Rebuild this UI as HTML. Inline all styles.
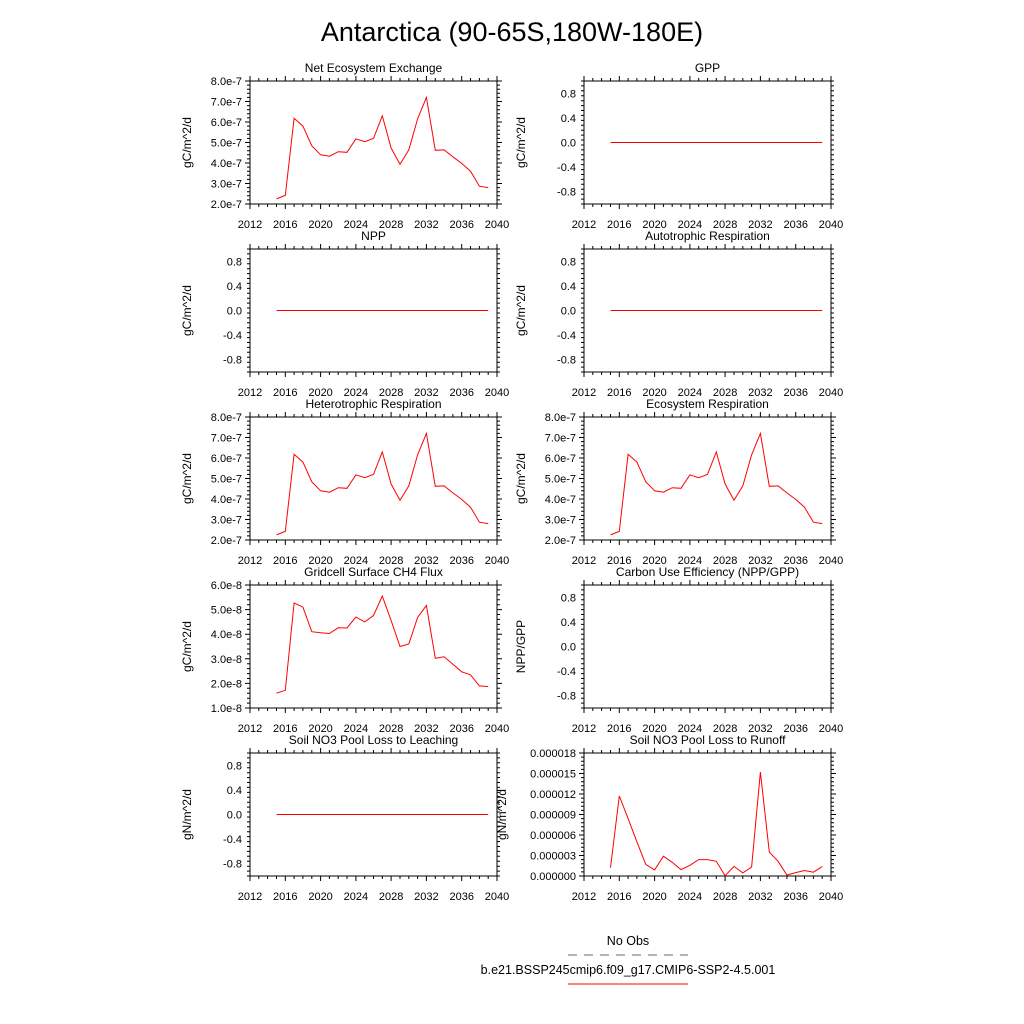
<!DOCTYPE html>
<html><head><meta charset="utf-8"><style>
body{margin:0;background:#fff;}
svg{display:block;font-family:"Liberation Sans",sans-serif;}
</style></head><body>
<svg id="c" width="1024" height="1024" viewBox="0 0 1024 1024">
<text x="512" y="41" font-size="27" text-anchor="middle">Antarctica (90-65S,180W-180E)</text>
<g>
<text x="628" y="945" font-size="12.5" text-anchor="middle">No Obs</text>
<line x1="568" y1="955" x2="688" y2="955" stroke="#6a6a90" stroke-dasharray="9,7"/>
<text x="628" y="974" font-size="12.5" text-anchor="middle">b.e21.BSSP245cmip6.f09_g17.CMIP6-SSP2-4.5.001</text>
<line x1="568" y1="984" x2="688" y2="984" stroke="red"/>
</g>
</svg>
<script>
const years=[2015,2016,2017,2018,2019,2020,2021,2022,2023,2024,2025,2026,2027,2028,2029,2030,2031,2032,2033,2034,2035,2036,2037,2038,2039];
const neeValues=[2.25,2.42,6.18,5.8,4.84,4.4,4.33,4.55,4.52,5.18,5.04,5.2,6.3,4.73,3.94,4.64,6.15,7.2,4.62,4.64,4.3,3.98,3.6,2.87,2.8];
const ch4Values=[1.6,1.72,5.27,5.1,4.1,4.06,4.03,4.26,4.25,4.7,4.5,4.76,5.55,4.56,3.5,3.6,4.68,5.17,3.02,3.08,2.78,2.47,2.35,1.9,1.87];
const runoffValues=[1.22,11.7,8.4,5.0,1.7,0.9,2.9,2.0,0.93,1.57,2.4,2.4,2.15,0.05,1.4,0.45,1.3,15.2,3.5,2.15,0.15,0.5,0.8,0.55,1.37];
const zeroValues=years.map(()=>0);
const xTicks=[2012,2016,2020,2024,2028,2032,2036,2040];
const eTicks7=["2.0e-7","3.0e-7","4.0e-7","5.0e-7","6.0e-7","7.0e-7","8.0e-7"];
const eTicks8=["1.0e-8","2.0e-8","3.0e-8","4.0e-8","5.0e-8","6.0e-8"];
const zTicks=["-0.8","-0.4","0.0","0.4","0.8"];
const rTicks=["0.000000","0.000003","0.000006","0.000009","0.000012","0.000015","0.000018"];
const NS="http://www.w3.org/2000/svg";
const svg=document.getElementById('c');
function mk(tag,attrs,parent){const e=document.createElementNS(NS,tag);for(const k in attrs)e.setAttribute(k,attrs[k]);parent.appendChild(e);return e;}
const panels=[
 {t:"Net Ecosystem Exchange",col:0,row:0,kind:"e7",v:neeValues,yl:"gC/m^2/d"},
 {t:"GPP",col:1,row:0,kind:"z",v:zeroValues,yl:"gC/m^2/d"},
 {t:"NPP",col:0,row:1,kind:"z",v:zeroValues,yl:"gC/m^2/d"},
 {t:"Autotrophic Respiration",col:1,row:1,kind:"z",v:zeroValues,yl:"gC/m^2/d"},
 {t:"Heterotrophic Respiration",col:0,row:2,kind:"e7",v:neeValues,yl:"gC/m^2/d"},
 {t:"Ecosystem Respiration",col:1,row:2,kind:"e7",v:neeValues,yl:"gC/m^2/d"},
 {t:"Gridcell Surface CH4 Flux",col:0,row:3,kind:"e8",v:ch4Values,yl:"gC/m^2/d"},
 {t:"Carbon Use Efficiency (NPP/GPP)",col:1,row:3,kind:"z",v:null,yl:"NPP/GPP"},
 {t:"Soil NO3 Pool Loss to Leaching",col:0,row:4,kind:"z",v:zeroValues,yl:"gN/m^2/d"},
 {t:"Soil NO3 Pool Loss to Runoff",col:1,row:4,kind:"r",v:runoffValues,yl:"gN/m^2/d"}
];
panels.forEach((p,i)=>{
 const L=p.col?584:250,R=L+247,T=81+p.row*168,B=T+123;
 const g=mk('g',{},svg);
 
 
 let lo,hi,labels,vals;
 if(p.kind=="e7"){lo=2;hi=8;labels=eTicks7;vals=labels.map((s,k)=>2+k);}
 else if(p.kind=="e8"){lo=1;hi=6;labels=eTicks8;vals=labels.map((s,k)=>1+k);}
 else if(p.kind=="r"){lo=0;hi=18;labels=rTicks;vals=labels.map((s,k)=>3*k);}
 else {lo=-1;hi=1;labels=zTicks;vals=labels.map(s=>parseFloat(s));}
 const xs=y=>L+(y-2012)/28*247;
 const ys=v=>B-(v-lo)/(hi-lo)*123;
 const tt=mk('text',{x:(L+R)/2,y:T-9,'font-size':12,'text-anchor':'middle'},g);tt.textContent=p.t;
 
 const fr=mk('rect',{x:L,y:T,width:247,height:123,fill:'none',stroke:'#000','stroke-width':1},g);
 
 let d='';
 for(let y=2012;y<=2040;y++){const x=xs(y).toFixed(1);const len=(y%4==0)?5:3;d+=`M${x} ${B}v${len}M${x} ${T}v-${len}`;}
 const step=(vals[1]-vals[0])/5;
 for(let v=lo;v<=hi+1e-9;v+=step){const y=ys(v).toFixed(1);const major=vals.some(t=>Math.abs(t-v)<1e-6);const len=major?5:3;d+=`M${L} ${y}h-${len}M${R} ${y}h${len}`;}
 const ax=mk('path',{d:d,stroke:'#000','stroke-width':1,fill:'none'},g);
 
 xTicks.forEach(y=>{const t=mk('text',{x:xs(y),y:B+24,'font-size':11,'text-anchor':'middle'},g);t.textContent=y;
  });
 labels.forEach((s,k)=>{const t=mk('text',{x:L-8,y:ys(vals[k])+4,'font-size':11,'text-anchor':'end'},g);t.textContent=s;
  });
 const lx=p.kind=="r"?L-78:L-59;
 const yl=mk('text',{x:lx,y:(T+B)/2,'font-size':12,'text-anchor':'middle',transform:`rotate(-90 ${lx} ${(T+B)/2})`},g);yl.textContent=p.yl;
 
 if(p.v){const pts=p.v.map((v,k)=>xs(years[k]).toFixed(1)+','+ys(v).toFixed(1)).join(' ');
  const pl=mk('polyline',{points:pts,fill:'none',stroke:'red','stroke-width':1},g);
  }
});
</script>
</body></html>
